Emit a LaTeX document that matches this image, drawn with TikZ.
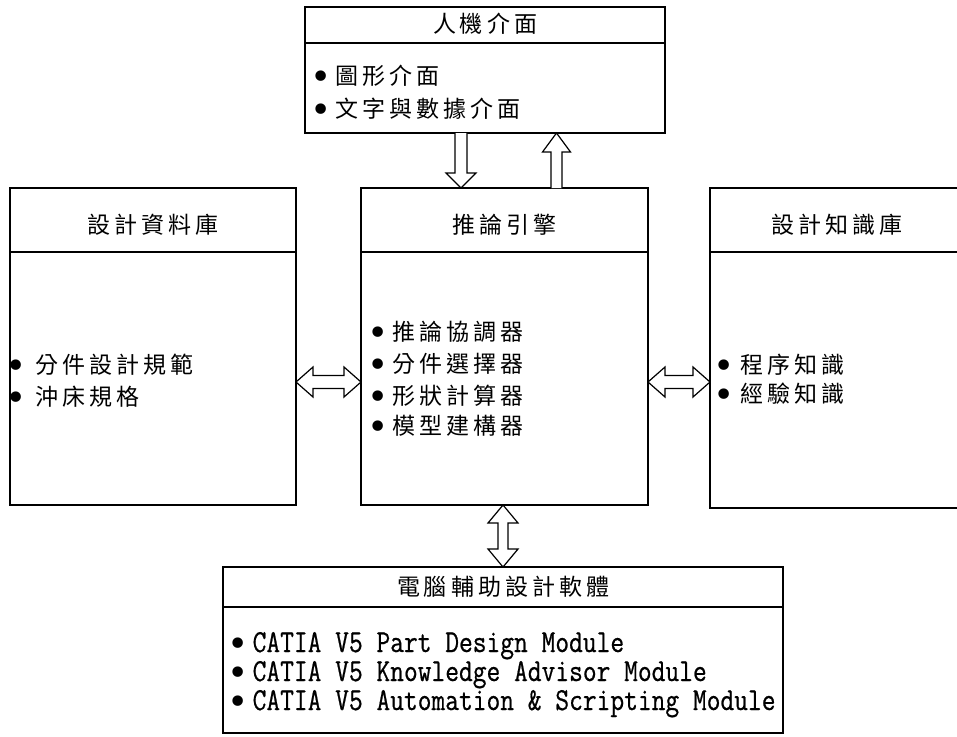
\documentclass[tikz,border=0pt]{standalone}
\usepackage{fontspec}
\usetikzlibrary{calc}
\newfontfamily\cjk{Noto Sans CJK TC}[LetterSpace=17.4]
\newfontfamily\monof{Latin Modern Mono}[FakeStretch=0.835,FakeBold=0.6]
\newfontfamily\bulf{DejaVu Sans}
\newcommand\itm[1][30]{\makebox[#1pt][c]{\smash{\raisebox{-4.3pt}{\bulf\fontsize{36pt}{36pt}\selectfont •}}}}
\begin{document}
\begin{tikzpicture}[x=1pt,y=-1pt,line width=1.3pt,
  box/.style={draw, rectangle, inner sep=0pt, outer sep=0pt, anchor=north west},
  hd/.style={anchor=base, inner sep=0pt, text height=19pt, text depth=2pt, font=\cjk\fontsize{23pt}{23pt}\selectfont},
  it/.style={anchor=base west, inner sep=0pt, text height=19pt, text depth=2pt, font=\cjk\fontsize{23pt}{23pt}\selectfont},
  mit/.style={anchor=base west, inner sep=0pt, text height=20pt, text depth=5pt, font=\monof\fontsize{32pt}{32pt}\selectfont},
  blk/.style={draw, fill=white, line width=1.2pt, line join=miter}]
\useasboundingbox (0,0) rectangle (957,736);
\clip (0,0) rectangle (957,736);
% boxes
\node[box, minimum width=360pt, minimum height=126pt] (hmi) at (305,7) {};
\node[box, minimum width=286pt, minimum height=317pt] (dbase) at (10,188) {};
\node[box, minimum width=287pt, minimum height=317pt] (eng) at (361,188) {};
\node[box, minimum width=262pt, minimum height=320pt] (know) at (710,188) {};
\node[box, minimum width=560pt, minimum height=166pt] (cad) at (223,567) {};
% header dividers
\draw ($(hmi.north west)+(0,36)$) -- ($(hmi.north east)+(0,36)$);
\draw ($(dbase.north west)+(0,64)$) -- ($(dbase.north east)+(0,64)$);
\draw ($(eng.north west)+(0,64)$) -- ($(eng.north east)+(0,64)$);
\draw ($(know.north west)+(0,64)$) -- ($(know.north east)+(0,64)$);
\draw ($(cad.north west)+(0,40)$) -- ($(cad.north east)+(0,40)$);
% headers
\node[hd] (hmih) at (485,32.7) {人機介面};
\node[hd] (dbaseh) at (153,233.7) {設計資料庫};
\node[hd] (engh) at (504.5,233.7) {推論引擎};
\node[hd] (knowh) at (837,233.7) {設計知識庫};
\node[hd] (cadh) at (503,595.7) {電腦輔助設計軟體};
% items
\node[it] (hmi1) at (305,84.7) {\itm{}圖形介面};
\node[it] (hmi2) at (305,117.7) {\itm{}文字與數據介面};
\node[it] (db1) at (-5,373.7) {\itm[40]{}分件設計規範};
\node[it] (db2) at (-5,405.7) {\itm[40]{}沖床規格};
\node[it] (en1) at (362,340.7) {\itm{}推論協調器};
\node[it] (en2) at (362,372.7) {\itm{}分件選擇器};
\node[it] (en3) at (362,404.7) {\itm{}形狀計算器};
\node[it] (en4) at (362,434.7) {\itm{}模型建構器};
\node[it] (kn1) at (706,373.7) {\itm[34]{}程序知識};
\node[it] (kn2) at (706,402.7) {\itm[34]{}經驗知識};
\node[mit] (cd1) at (222,652) {\itm{}CATIA V5 Part Design Module};
\node[mit] (cd2) at (222,681) {\itm{}CATIA V5 Knowledge Advisor Module};
\node[mit] (cd3) at (222,710) {\itm{}CATIA V5 Automation \& Scripting Module};
% connector coordinates
\coordinate (c1) at (461,0);
\coordinate (c2) at (556.5,0);
\coordinate (c3) at (503,0);
\coordinate (cy) at (0,382);
\coordinate (d1) at (c1 |- hmi.south);
\coordinate (d2) at (c1 |- eng.north);
\coordinate (u1) at (c2 |- eng.north);
\coordinate (u2) at (c2 |- hmi.south);
\coordinate (l1) at (dbase.east |- cy);
\coordinate (l2) at (eng.west |- cy);
\coordinate (r1) at (eng.east |- cy);
\coordinate (r2) at (know.west |- cy);
\coordinate (b1) at (c3 |- eng.south);
\coordinate (b2) at (c3 |- cad.north);
% down arrow hmi -> engine
\draw[blk] ($(d1)+(-6,0)$) -- ($(d2)+(-6,-15)$) -- ($(d2)+(-15,-15)$) -- (d2)
  -- ($(d2)+(15,-15)$) -- ($(d2)+(6,-15)$) -- ($(d1)+(6,0)$);
% up arrow engine -> hmi
\draw[blk] ($(u1)+(-5.5,0)$) -- ($(u2)+(-5.5,19)$) -- ($(u2)+(-14,19)$) -- (u2)
  -- ($(u2)+(14,19)$) -- ($(u2)+(5.5,19)$) -- ($(u1)+(5.5,0)$);
% left double arrow
\draw[blk] (l1) -- ($(l1)+(17,-15)$) -- ($(l1)+(17,-6.5)$) -- ($(l2)+(-17,-6.5)$)
  -- ($(l2)+(-17,-15)$) -- (l2) -- ($(l2)+(-17,15)$) -- ($(l2)+(-17,6.5)$)
  -- ($(l1)+(17,6.5)$) -- ($(l1)+(17,15)$) -- cycle;
% right double arrow
\draw[blk] (r1) -- ($(r1)+(17,-15)$) -- ($(r1)+(17,-6.5)$) -- ($(r2)+(-17,-6.5)$)
  -- ($(r2)+(-17,-15)$) -- (r2) -- ($(r2)+(-17,15)$) -- ($(r2)+(-17,6.5)$)
  -- ($(r1)+(17,6.5)$) -- ($(r1)+(17,15)$) -- cycle;
% bottom double arrow
\draw[blk] (b1) -- ($(b1)+(15,18)$) -- ($(b1)+(5,18)$) -- ($(b2)+(5,-18)$)
  -- ($(b2)+(15,-18)$) -- (b2) -- ($(b2)+(-15,-18)$) -- ($(b2)+(-5,-18)$)
  -- ($(b1)+(-5,18)$) -- ($(b1)+(-15,18)$) -- cycle;
\end{tikzpicture}
\end{document}
